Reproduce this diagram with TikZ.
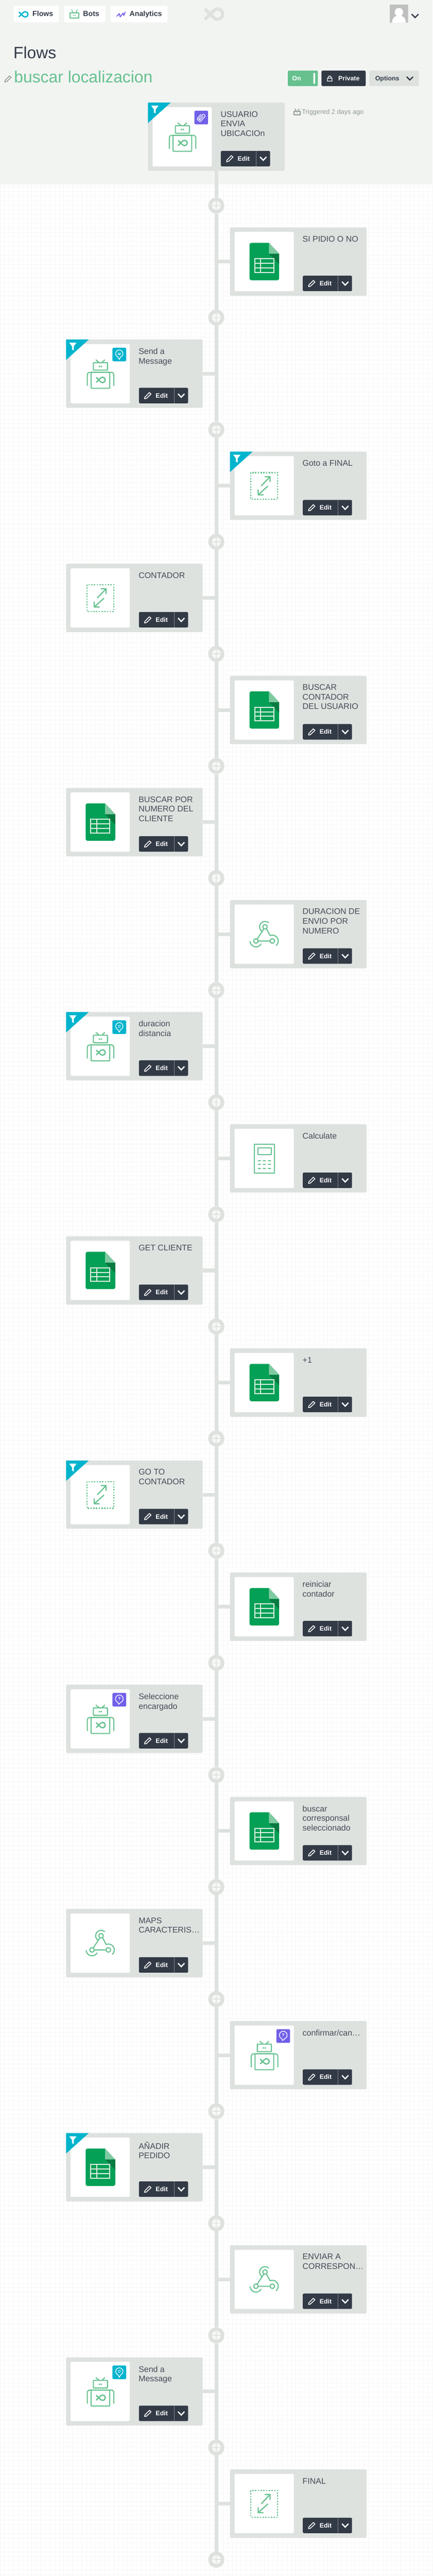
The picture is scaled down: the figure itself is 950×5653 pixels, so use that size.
\documentclass[tikz,border=0pt]{standalone}
\usepackage{fontspec}
\setmainfont{Liberation Sans}
\usetikzlibrary{positioning}

\definecolor{pagegray}{HTML}{F2F4F2}
\definecolor{gridgray}{HTML}{F6F7F6}
\definecolor{cardgray}{HTML}{DEE2DF}
\definecolor{darkslate}{HTML}{323A46}
\definecolor{flowgreen}{HTML}{66C18F}
\definecolor{flowteal}{HTML}{00B4CD}
\definecolor{flowpurple}{HTML}{7060E8}
\definecolor{mutedgray}{HTML}{8D9A95}
\definecolor{sheetgreen}{HTML}{04A056}
\definecolor{sheetlight}{HTML}{7FCAA2}
\definecolor{sheetdark}{HTML}{067A41}
\definecolor{sheetline}{HTML}{DDEEE3}

\tikzset{
	box/.style={inner sep=0pt,outer sep=0pt,rounded corners=2pt,anchor=north west},
	card/.style={box,fill=cardgray,minimum width=300pt,minimum height=150pt},
	whitebox/.style={box,fill=white,minimum width=130pt,minimum height=130pt},
	editbtn/.style={box,fill=darkslate,minimum width=108pt,minimum height=34pt},
	navpill/.style={box,fill=white,minimum height=36pt},
	headbtn/.style={box,minimum height=34pt},
	badge/.style={box,minimum width=30pt,minimum height=30pt,anchor=north east},
	txt/.style={inner sep=0pt,outer sep=0pt,anchor=base west},
	cardtitle/.style={inner sep=0pt,outer sep=0pt,anchor=north west,align=left,text=darkslate!92!white,font=\fontsize{18}{21}\selectfont},
	btnlabel/.style={txt,font=\fontsize{14}{16}\selectfont\bfseries},
	navlabel/.style={txt,text=darkslate,font=\fontsize{16}{18}\selectfont\bfseries},
	spine/.style={line width=8pt,draw=cardgray},
	addstep/.style={circle,draw=cardgray,line width=8pt,fill=pagegray!50!white,minimum size=27.5pt,inner sep=0pt},
	plusmark/.style={draw=cardgray,line width=2pt},
	chevron/.style={line width=2.7pt,line join=miter},
	iconline/.style={draw=flowgreen,line width=2.3pt,line cap=round,line join=round},
}

\newcommand{\fishlogo}[4]{% where, scale, colour, line width
	\begin{scope}[shift={(#1)},scale=#2]
		\draw[#3,line width=#4,line cap=round,line join=round] (-1,-.5) -- (-.074,.424) arc[start angle=135,end angle=-135,radius=.6] -- (-1,.5);
	\end{scope}}
\newcommand{\iconpencil}[2]{%
	\begin{scope}[shift={(#1)}]
		\draw[#2,line width=1.7pt,line join=round] (-7.5,7) -- (-6.8,3.4) -- (3,-6.6) -- (6.6,-3.2) -- (-3.4,6.2) -- cycle;
	\end{scope}}
\newcommand{\iconbot}[1]{%
	\begin{scope}[shift={(#1)}]
		\draw[iconline,rounded corners=1pt] (-15,-24.3) rectangle (16,-7.7);
		\draw[iconline] (-2.7,-24.7) -- (-9.3,-30.3) (4,-24.7) -- (10,-30.3);
		\fill[flowgreen] (-3.3,-17.3) rectangle (-.3,-14.3) (1,-17.3) rectangle (4,-14.3);
		\draw[iconline,rounded corners=1pt] (-20,-3) rectangle (21,32);
		\draw[iconline,rounded corners=5pt] (-28.3,26) -- (-28.3,-3) -- (30,-3) -- (30,26);
		\fishlogo{1.7,13.7}{10}{flowgreen}{2.8pt}
	\end{scope}}
\newcommand{\iconsheet}[1]{%
	\begin{scope}[shift={(#1)}]
		\fill[sheetgreen] (10.7,-41) [rounded corners=4pt] -- (-32,-41) -- (-32,41) -- (33,41) [sharp corners] -- (33,-17) -- cycle;
		\fill[sheetlight] (10.7,-41) -- (33,-17) -- (10.7,-17) -- cycle;
		\fill[sheetdark] (10.7,-17) -- (33,-17) -- (33,6) -- cycle;
		\draw[sheetline,line width=2.3pt] (-20.7,-6) rectangle (21.3,24) (-20.7,4) -- (21.3,4) (-20.7,14) -- (21.3,14) (-7.7,-6) -- (-7.7,24);
	\end{scope}}
\newcommand{\icongoto}[1]{%
	\begin{scope}[shift={(#1)}]
		\draw[flowgreen,line width=2.5pt,dash pattern=on 3pt off 3pt] (-29,-28.7) rectangle (29.7,29.7);
		\draw[iconline,line width=2.5pt] (-6,0) -- (13,-20) (2,-20) -- (13,-20) -- (13,-9);
		\draw[iconline,line width=2.5pt] (8,1) -- (-13,20) (-13,9) -- (-13,20) -- (-2,20);
	\end{scope}}
\newcommand{\iconhook}[1]{%
	\begin{scope}[shift={(#1)}]
		\draw[iconline] (2,-16) circle[radius=5] (-18,15) circle[radius=5] (18,15) circle[radius=5];
		\draw[iconline] (2,-16) ++(-50:12) arc[start angle=-50,end angle=-240,radius=12];
		\draw[iconline] (-18,15) ++(175:13) arc[start angle=175,end angle=30,radius=13];
		\draw[iconline] (18,15) ++(-112:13) arc[start angle=-112,end angle=48,radius=13];
		\draw[iconline] (-.7,-11.8) -- (-15.3,10.8) (5,-12) -- (13,3) (-13,15) -- (13,15);
	\end{scope}}
\newcommand{\iconcalc}[1]{%
	\begin{scope}[shift={(#1)}]
		\draw[iconline] (-21.7,-31) rectangle (22.7,32);
		\draw[iconline] (-14,-23) rectangle (15.3,-8);
		\foreach \ky in {5,13.3,22} {\draw[iconline] (-13,\ky) -- (-7.7,\ky) (-2,\ky) -- (3,\ky) (9.3,\ky) -- (14.3,\ky);}
	\end{scope}}
\newcommand{\iconfilter}[1]{%
	\begin{scope}[shift={(#1)}]
		\fill[white] (7,7) -- (23,7) -- (17,15) -- (17,24) -- (13,22) -- (13,15) -- cycle;
	\end{scope}}
\newcommand{\tvicon}[3]{% where, colour, width
	\begin{scope}[shift={(#1)},scale=#3]
		\draw[#2,line width=2.3pt,line join=round] (-9,-1.5) rectangle (10,9.5);
		\draw[#2,line width=1.6pt] (-6,-9) -- (-2,-1.5) (7,-9) -- (3,-1.5);
		\fill[#2] (-3,2.5) rectangle (-1,4.5) (1,2.5) rectangle (3,4.5);
	\end{scope}}

\begin{document}
\begin{tikzpicture}[x=1pt,y=-1pt]
	\useasboundingbox (0,0) rectangle (950,5653);

	% page and grid
	\fill[white] (0,405) rectangle (950,5653);
	\draw[gridgray,line width=1pt] (0,5653) grid[step=10pt] (950,405);
	\fill[pagegray] (0,0) rectangle (950,405);

	% top bar
	\node[navpill,minimum width=99pt] (navflows) at (30,13) {};
	\node[navpill,minimum width=90pt] (navbots) at (141,13) {};
	\node[navpill,minimum width=125pt] (navstats) at (243,13) {};
	\node[navlabel] (flowslabel) at (71.5,36) {Flows};
	\node[navlabel] (botslabel) at (182.5,36) {Bots};
	\node[navlabel] (statslabel) at (284.5,36) {Analytics};
	\fishlogo{52,31.5}{10}{flowteal}{2.8pt}
	\tvicon{163,30}{flowgreen}{1}
	\draw[flowpurple,line width=2pt,line join=round] (256,36) -- (262,30) -- (264,37) -- (270,29) -- (272,34) -- (275,26);
	\fishlogo{471,31}{19}{cardgray}{7pt}
	\fill[gray!50,rounded corners=1pt] (856,10) rectangle (896,50);
	\fill[white] (876,26.7) circle[radius=9.3];
	\fill[white] (861,50) .. controls (861,38) and (868,34) .. (876,34) .. controls (884,34) and (891,38) .. (891,50) -- cycle;
	\draw[darkslate,chevron] (904,31) -- (911.5,38.5) -- (919,31);

	% title row
	\node[txt,text=darkslate,font=\fontsize{36}{40}\selectfont] (pagetitle) at (29.5,128) {Flows};
	\node[txt,text=flowgreen,font=\fontsize{36}{40}\selectfont] (flowname) at (31,181) {buscar localizacion};
	\iconpencil{18,173}{mutedgray}
	\node[headbtn,fill=flowgreen,minimum width=66pt] (onbtn) at (632,155) {};
	\node[headbtn,fill=darkslate,minimum width=97pt] (privatebtn) at (706,155) {};
	\node[headbtn,fill=cardgray,minimum width=109pt] (optionsbtn) at (811,155) {};
	\node[btnlabel,text=white] (onlabel) at (641.5,177) {On};
	\fill[white,rounded corners=1pt] (688,160) rectangle (692,184);
	\draw[white,line width=1.5pt] (719,171.5) rectangle (729,178) (720.7,171.5) -- (720.7,170) arc[start angle=180,end angle=360,radius=3.3] -- (727.3,171.5);
	\node[btnlabel,text=white] (privatelabel) at (743,177) {Private};
	\node[btnlabel,text=darkslate] (optionslabel) at (824,177) {Options};
	\draw[darkslate,chevron] (893,168.5) -- (900,175.5) -- (907,168.5);
	\tvicon{652,245}{mutedgray}{.72}
	\node[txt,text=mutedgray,font=\fontsize{14.4}{16}\selectfont] (triggered) at (663,250) {Triggered 2 days ago};

	% the steps
	\foreach \n/\xc/\yc/\ttl/\kind in {
		top/325/225/{USUARIO\\ENVIA\\UBICACIOn}/bot,
		0/505/499/{SI PIDIO O NO}/sheet,
		1/145/745/{Send a\\Message}/bot,
		2/505/991/{Goto a FINAL}/goto,
		3/145/1237/{CONTADOR}/goto,
		4/505/1483/{BUSCAR\\CONTADOR\\DEL USUARIO}/sheet,
		5/145/1729/{BUSCAR POR\\NUMERO DEL\\CLIENTE}/sheet,
		6/505/1975/{DURACION DE\\ENVIO POR\\NUMERO}/hook,
		7/145/2221/{duracion\\distancia}/bot,
		8/505/2467/{Calculate}/calc,
		9/145/2713/{GET CLIENTE}/sheet,
		10/505/2959/{+1}/sheet,
		11/145/3205/{GO TO\\CONTADOR}/goto,
		12/505/3451/{reiniciar\\contador}/sheet,
		13/145/3697/{Seleccione\\encargado}/bot,
		14/505/3943/{buscar\\corresponsal\\seleccionado}/sheet,
		15/145/4189/{MAPS\\CARACTERIS…}/hook,
		16/505/4435/{confirmar/can…}/bot,
		17/145/4681/{AÑADIR\\PEDIDO}/sheet,
		18/505/4927/{ENVIAR A\\CORRESPON…}/hook,
		19/145/5173/{Send a\\Message}/bot,
		20/505/5419/{FINAL}/goto} {
		\node[card] (c\n) at (\xc,\yc) {};
		\node[whitebox] (w\n) at ([shift={(10,10)}]c\n.north west) {};
		\node[cardtitle] (t\n) at ([shift={(159.5,19.2)}]c\n.north west) {\ttl};
		\node[editbtn] (b\n) at ([shift={(160,106)}]c\n.north west) {};
		\node[btnlabel,text=white] (e\n) at ([shift={(37,22)}]b\n.north west) {Edit};
		\draw[cardgray!45!darkslate,line width=.8pt] ([xshift=77pt]b\n.north west) -- ([xshift=77pt]b\n.south west);
		\iconpencil{[shift={(20,17)}]b\n.north west}{white}
		\draw[white,chevron] ([shift={(86,13.3)}]b\n.north west) -- ([shift={(93,20.7)}]b\n.north west) -- ([shift={(100,13.3)}]b\n.north west);
		\csname icon\kind\endcsname{w\n.center}
	}

	% filter corners
	\foreach \n in {top,1,2,7,11,17} {
		\fill[flowteal] (c\n.north west) -- ++(50,0) -- ++(-50,45) -- cycle;
		\iconfilter{c\n.north west}
	}

	% badges on the bots
	\foreach \n in {1,7,19} {
		\node[badge,fill=flowteal] (g\n) at ([shift={(-8,8)}]w\n.north east) {};
		\begin{scope}[shift={(g\n.center)}]
			\draw[white,line width=1.4pt,line join=round] (0,-2) ++(112:8) arc[start angle=112,end angle=428,radius=8] -- (0,11) -- cycle;
			\draw[white,line width=1.3pt] (-3.5,-3.4) -- (3.5,-3.4) (-3.5,-.2) -- (2,-.2);
		\end{scope}
	}
	\foreach \n in {13,16} {
		\node[badge,fill=flowpurple] (g\n) at ([shift={(-8,8)}]w\n.north east) {};
		\begin{scope}[shift={(g\n.center)}]
			\draw[white,line width=1.5pt,line join=round] (0,-2) ++(112:8.5) arc[start angle=112,end angle=428,radius=8.5] -- (-1.5,10) -- cycle;
		\end{scope}
		\node[inner sep=0pt,text=white,font=\fontsize{10}{12}\selectfont\bfseries] (q\n) at ([yshift=2pt]g\n.center) {?};
	}
	\node[badge,fill=flowpurple] (gtop) at ([shift={(-8,8)}]wtop.north east) {};
	\begin{scope}[shift={(gtop.center)},rotate=-42]
		\draw[white,line width=1.4pt,rounded corners=2.4pt] (1.2,-5) -- (1.2,6) -- (-2.2,6) -- (-2.2,-9) -- (4.6,-9) -- (4.6,9) -- (-5.4,9) -- (-5.4,-5);
	\end{scope}

	% add-step circles and the spine
	\foreach \n in {0,...,21} {
		\node[addstep] (p\n) at (475,{451+246*\n}) {};
		\draw[plusmark] (p\n.center) +(-8.5,0) -- +(8.5,0) +(0,-8.5) -- +(0,8.5);
	}
	\draw[spine] (ctop.south) -- (p0);
	\foreach \n [remember=\n as \m (initially 0)] in {1,...,21} {
		\draw[spine] (p\m) -- (p\n);
	}
	\foreach \n in {0,2,4,6,8,10,12,14,16,18,20} {
		\draw[spine] (c\n.west) -- (c\n.west -| p0.center);
	}
	\foreach \n in {1,3,5,7,9,11,13,15,17,19} {
		\draw[spine] (c\n.east) -- (c\n.east -| p0.center);
	}
\end{tikzpicture}
\end{document}
